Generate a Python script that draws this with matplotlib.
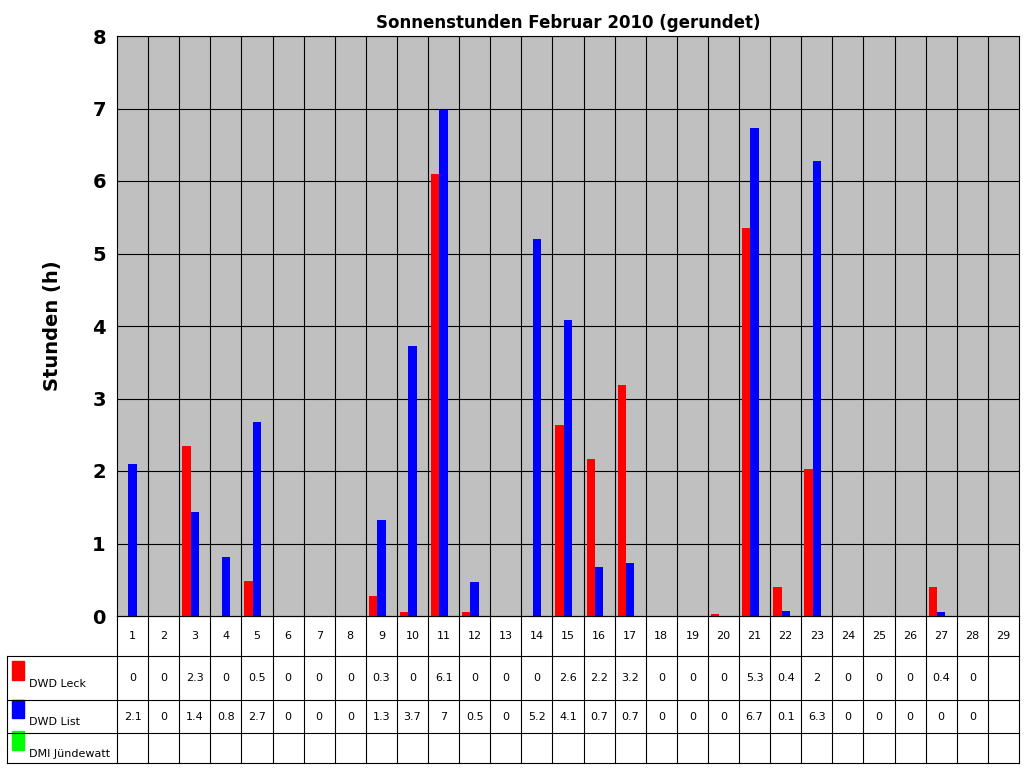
import matplotlib
matplotlib.use("Agg")
import matplotlib.pyplot as plt
import numpy as np

days = list(range(1, 30))
leck = [0,0,2.35,0,0.48,0,0,0,0.27,0.05,6.1,0.05,0,0,2.63,2.17,3.18,0,0,0.03,5.35,0.4,2.03,0,0,0,0.4,0,None]
lst = [2.1,0,1.43,0.82,2.68,0,0,0,1.32,3.73,6.98,0.47,0,5.2,4.08,0.68,0.73,0,0,0,6.73,0.07,6.27,0,0,0,0.05,0,None]
jund = [None]*29
leck_lbl = ["0","0","2.3","0","0.5","0","0","0","0.3","0","6.1","0","0","0","2.6","2.2","3.2","0","0","0","5.3","0.4","2","0","0","0","0.4","0",""]
list_lbl = ["2.1","0","1.4","0.8","2.7","0","0","0","1.3","3.7","7","0.5","0","5.2","4.1","0.7","0.7","0","0","0","6.7","0.1","6.3","0","0","0","0","0",""]
jund_lbl = [""]*29
series = [("DWD Leck", leck, leck_lbl, "#FF0000"),
          ("DWD List", lst, list_lbl, "#0000FF"),
          ("DMI Jündewatt", jund, jund_lbl, "#00FF00")]

W, H = 1024, 768
fig = plt.figure(figsize=(W/100, H/100), dpi=100)
ax = fig.add_axes([117/W, 1-616/H, (1019-117)/W, (616-36)/H])
ax.set_facecolor("#C0C0C0")
x = np.arange(1, 30)
w = 0.27
for i, (name, vals, _, col) in enumerate(series):
    v = np.array([np.nan if a is None else a for a in vals], float)
    ax.bar(x + (i-1)*w, v, width=w, color=col, zorder=3)
ax.set_xlim(0.5, 29.5)
ax.set_ylim(0, 8)
ax.set_yticks(range(9))
ax.set_yticklabels([str(i) for i in range(9)], fontsize=14, fontweight="bold")
ax.set_xticks([])
for yv in range(1, 9):
    ax.axhline(yv, color="black", lw=0.8, zorder=1)
for xv in np.arange(1.5, 29.5, 1):
    ax.axvline(xv, color="black", lw=0.8, zorder=1)
for s in ax.spines.values():
    s.set_color("black"); s.set_linewidth(0.8)
ax.tick_params(axis="y", length=0, pad=8)
ax.set_ylabel("Stunden (h)", fontsize=14, fontweight="bold", labelpad=22)
ax.set_title("Sonnenstunden Februar 2010 (gerundet)", fontsize=12, fontweight="bold", pad=6)

# table
tx = fig.add_axes([117/W, 1-763/H, (1019-117)/W, (763-616)/H])
tx.set_xlim(0.5, 29.5)
tx.set_ylim(0, 4)
tx.axis("off")
rows_y = [4, 2.9, 1.8, 0.9, 0]  # boundaries
# compute from pixels: 616, 656, 700, 733, 763
px = [616, 656, 700, 733, 763]
rows_y = [(763-p)/(763-616)*4 for p in px]
left = 0.5 - (117-7)/((1019-117)/29)
for yb in rows_y[1:]:
    tx.plot([left, 29.5], [yb, yb], color="black", lw=0.8, clip_on=False)
tx.plot([0.5, 29.5], [rows_y[0], rows_y[0]], color="black", lw=0.8, clip_on=False)
for xv in np.arange(0.5, 30.5, 1):
    tx.plot([xv, xv], [rows_y[0], rows_y[4]], color="black", lw=0.8, clip_on=False)
tx.plot([left, left], [rows_y[1], rows_y[4]], color="black", lw=0.8, clip_on=False)
for d in days:
    tx.text(d, (rows_y[0]+rows_y[1])/2, str(d), ha="center", va="center", fontsize=8)
for r, (name, vals, lbls, col) in enumerate(series):
    yc = (rows_y[r+1]+rows_y[r+2])/2
    for d, l in zip(days, lbls):
        tx.text(d, yc, l, ha="center", va="center", fontsize=8)
    tx.add_patch(plt.Rectangle((left+0.15, yc-0.05), 0.4, 0.5, color=col, clip_on=False))
    tx.text(left+0.7, yc-0.15, name, ha="left", va="center", fontsize=8)

fig.savefig("out.png", dpi=100)
